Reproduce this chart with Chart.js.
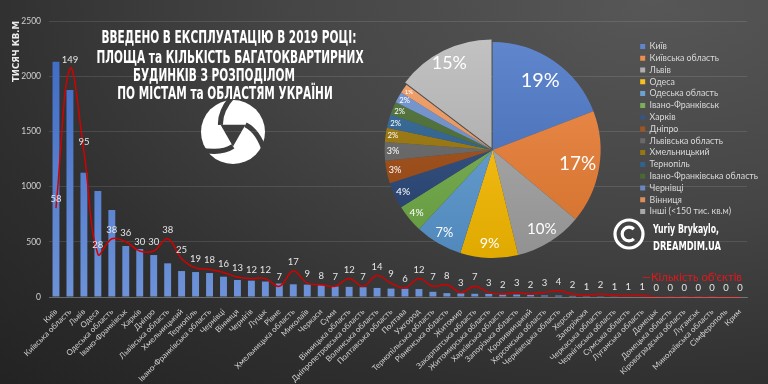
<!DOCTYPE html>
<html lang="uk">
<head>
<meta charset="utf-8">
<script src="https://cdn.jsdelivr.net/npm/chart.js@4.4.1/dist/chart.umd.min.js"></script>
<style>
  html, body { margin: 0; padding: 0; }
  body {
    width: 768px; height: 384px; overflow: hidden; position: relative;
    background: radial-gradient(ellipse 120% 140% at 85% 0%, #575757 0%, #454545 40%, #2e2e2e 75%, #232323 100%);
  }
  #main_wrap { position: absolute; left: 0; top: 0; width: 768px; height: 384px; }
  #pie_wrap { position: absolute; left: 348px; top: 0; width: 420px; height: 300px; }
</style>
</head>
<body>
<div id="main_wrap"><canvas id="main_canvas"></canvas></div>
<div id="pie_wrap"><canvas id="pie_canvas"></canvas></div>
<script>
const city_names = [
  'Київ', 'Київська область', 'Львів', 'Одеса', 'Одеська область',
  'Івано-Франківськ', 'Харків', 'Дніпро', 'Львівська область', 'Хмельницький',
  'Тернопіль', 'Івано-Франківська область', 'Чернівці', 'Вінниця', 'Чернігів',
  'Луцьк', 'Рівне', 'Хмельницька область', 'Миколаїв', 'Черкаси',
  'Суми', 'Вінницька область', 'Дніпропетровська область', 'Волинська область', 'Полтавська область',
  'Полтава', 'Ужгород', 'Тернопільська область', 'Рівненська область', 'Житомир',
  'Закарпатська область', 'Житомирська область', 'Харківська область', 'Запорізька область', 'Кропивницький',
  'Херсонська область', 'Чернівецька область', 'Херсон', 'Запоріжжя', 'Черкаська область',
  'Чернігівська область', 'Сумська область', 'Луганська область', 'Донецьк', 'Донецька область',
  'Кіровоградська область', 'Луганськ', 'Миколаївська область', 'Сімферополь', 'Крим'
];

// тисяч кв.м
const area_values = [
  2130, 1875, 1126, 960, 788,
  462, 435, 380, 305, 235,
  226, 217, 184, 154, 148,
  140, 122, 115, 112, 105,
  95, 92, 88, 82, 76,
  74, 72, 47, 35, 32,
  29, 28, 23, 22, 19,
  14, 13, 10, 8, 7,
  6, 5, 4, 3, 2,
  1, 1, 1, 0, 0
];

const object_counts = [
  58, 149, 95, 28, 38,
  36, 30, 30, 38, 25,
  19, 18, 16, 13, 12,
  12, 7, 17, 9, 8,
  7, 12, 7, 14, 9,
  6, 12, 7, 8, 3,
  7, 3, 2, 3, 2,
  3, 4, 2, 1, 2,
  1, 1, 1, 0, 0,
  0, 0, 0, 0, 0
];

const area_ticks = [0, 500, 1000, 1500, 2000, 2500];
const count_axis_max = 180;

const pie_top_count = 14;
const others_label = 'Інші (<150 тис. кв.м)';
const pie_colors = [
  '#4472c4', '#ed7d31', '#a5a5a5', '#ffc000', '#5b9bd5',
  '#70ad47', '#264478', '#9e480e', '#636363', '#997300',
  '#255e91', '#43682b', '#698ed0', '#f1975a', '#b7b7b7'
];

const title_lines = [
  'ВВЕДЕНО В ЕКСПЛУАТАЦІЮ В 2019 РОЦІ:',
  'ПЛОЩА та КІЛЬКІСТЬ БАГАТОКВАРТИРНИХ',
  'БУДИНКІВ З РОЗПОДІЛОМ',
  'ПО МІСТАМ та ОБЛАСТЯМ УКРАЇНИ'
];
const area_axis_title = 'ТИСЯЧ КВ.М';
const author_lines = ['Yuriy Brykaylo,', 'DREAMDIM.UA'];
const count_legend_text = '—Кількість об\'єктів';

const others_sum = area_values.slice(pie_top_count).reduce((a, b) => a + b, 0);
const pie_labels = city_names.slice(0, pie_top_count).concat([others_label]);
const pie_values = area_values.slice(0, pie_top_count).concat([others_sum]);
const pie_total = pie_values.reduce((a, b) => a + b, 0);

const narrow_font = '"Liberation Sans Narrow", "DejaVu Sans Condensed", sans-serif';

function shade(hex, amt) {
  const n = parseInt(hex.slice(1), 16);
  let r = (n >> 16) & 255, g = (n >> 8) & 255, b = n & 255;
  const f = (c) => Math.max(0, Math.min(255, Math.round(amt > 0 ? c + (255 - c) * amt : c * (1 + amt))));
  return 'rgb(' + f(r) + ',' + f(g) + ',' + f(b) + ')';
}

function bar_fill(context) {
  const area = context.chart.chartArea;
  if (!area) return '#4472c4';
  const g = context.chart.ctx.createLinearGradient(0, area.top, 0, area.bottom);
  g.addColorStop(0, '#3a67c2');
  g.addColorStop(1, '#6d92d8');
  return g;
}

function pie_fill(context) {
  const base = pie_colors[context.dataIndex];
  const area = context.chart.chartArea;
  if (!area) return base;
  const cy = (area.top + area.bottom) / 2;
  const g = context.chart.ctx.createLinearGradient(0, cy - 110, 0, cy + 110);
  g.addColorStop(0, shade(base, 0.15));
  g.addColorStop(1, shade(base, -0.12));
  return g;
}

/**
 * Writes each count value above its point on the red line.
 */
const count_labels_plugin = {
  id: 'count_labels',
  afterDatasetsDraw(chart) {
    const meta = chart.getDatasetMeta(0);
    const ctx = chart.ctx;
    ctx.save();
    ctx.fillStyle = '#e6e6e6';
    ctx.font = '9.5px Lato';
    ctx.textAlign = 'center';
    ctx.textBaseline = 'middle';
    meta.data.forEach((pt, i) => {
      ctx.fillText(String(object_counts[i]), pt.x, pt.y - 9);
    });
    ctx.restore();
  }
};

function fit_text(ctx, text, x, y, width, align) {
  const w = ctx.measureText(text).width;
  const sx = width / w;
  ctx.save();
  ctx.translate(x, y);
  ctx.scale(sx, 1);
  ctx.textAlign = align;
  ctx.fillText(text, 0, 0);
  ctx.restore();
}

function draw_logo(ctx, cx, cy, r) {
  const off = document.createElement('canvas');
  off.width = off.height = Math.ceil(r * 2 + 6);
  const o = off.getContext('2d');
  const c = off.width / 2;
  o.fillStyle = '#ffffff';
  o.beginPath();
  o.arc(c, c, r, 0, Math.PI * 2);
  o.fill();
  o.globalCompositeOperation = 'destination-out';
  o.beginPath();
  for (let k = 0; k < 3; k++) {
    const a = Math.PI / 2 + k * 2 * Math.PI / 3;
    const px = c + Math.cos(a) * r * 0.45, py = c + Math.sin(a) * r * 0.45;
    if (k === 0) o.moveTo(px, py); else o.lineTo(px, py);
  }
  o.closePath();
  o.fill();
  o.lineWidth = r * 0.16;
  o.lineCap = 'butt';
  for (let k = 0; k < 3; k++) {
    const a = Math.PI / 2 + k * 2 * Math.PI / 3;
    o.beginPath();
    o.moveTo(c + Math.cos(a) * r * 0.45, c + Math.sin(a) * r * 0.45);
    o.quadraticCurveTo(c + Math.cos(a + 0.5) * r * 0.8, c + Math.sin(a + 0.5) * r * 0.8,
                       c + Math.cos(a + 1.1) * r * 1.2, c + Math.sin(a + 1.1) * r * 1.2);
    o.stroke();
  }
  ctx.drawImage(off, cx - c, cy - c);
}

/**
 * Title, logo, copyright block and the line series legend.
 */
const decorations_plugin = {
  id: 'decorations',
  afterDraw(chart) {
    const ctx = chart.ctx;
    ctx.save();
    ctx.fillStyle = '#ffffff';
    ctx.textBaseline = 'alphabetic';
    ctx.font = 'bold 17.3px ' + narrow_font;
    const sx = 255 / ctx.measureText(title_lines[0]).width;
    const title_pos = [[229, 43.3], [230, 62.7], [214, 80.7], [225, 99.3]];
    title_lines.forEach((line, i) => {
      ctx.save();
      ctx.translate(title_pos[i][0], title_pos[i][1]);
      ctx.scale(sx, 1);
      ctx.textAlign = 'center';
      ctx.fillText(line, 0, 0);
      ctx.restore();
    });

    draw_logo(ctx, 233, 132, 32);

    // copyright mark
    ctx.strokeStyle = '#ffffff';
    ctx.lineWidth = 3.2;
    ctx.beginPath();
    ctx.arc(629, 234, 14, 0, Math.PI * 2);
    ctx.stroke();
    ctx.beginPath();
    ctx.arc(629, 234, 6.8, Math.PI * 0.25, Math.PI * 1.75);
    ctx.stroke();

    ctx.font = 'bold 13px ' + narrow_font;
    fit_text(ctx, author_lines[0], 653, 233, 66, 'left');
    fit_text(ctx, author_lines[1], 653, 250, 68, 'left');

    ctx.fillStyle = '#e8161b';
    ctx.font = '11px Lato';
    fit_text(ctx, count_legend_text, 742, 280.5, 100, 'right');
    ctx.restore();
  }
};

new Chart(document.getElementById('main_canvas'), {
  type: 'bar',
  data: {
    labels: city_names,
    datasets: [
      {
        type: 'line',
        label: 'Кількість об\'єктів',
        data: object_counts,
        yAxisID: 'y_count',
        borderColor: '#d20000',
        borderWidth: 1.5,
        pointRadius: 0,
        tension: 0.4,
        order: 0
      },
      {
        type: 'bar',
        label: area_axis_title,
        data: area_values,
        yAxisID: 'y',
        backgroundColor: bar_fill,
        barPercentage: 0.55,
        categoryPercentage: 0.9,
        order: 1
      }
    ]
  },
  options: {
    responsive: true,
    maintainAspectRatio: false,
    animation: false,
    layout: { padding: { top: 21, right: 21, left: 0, bottom: 0 } },
    plugins: { legend: { display: false }, tooltip: { enabled: false } },
    scales: {
      x: {
        grid: { display: false },
        border: { color: 'rgba(255,255,255,0.22)' },
        ticks: {
          autoSkip: false, minRotation: 45, maxRotation: 45, padding: 2,
          color: '#d0d0d0', font: { family: 'Lato', size: 8 }
        },
        afterFit: (scale) => { scale.height = 87; }
      },
      y: {
        min: area_ticks[0],
        max: area_ticks[area_ticks.length - 1],
        afterBuildTicks: (scale) => { scale.ticks = area_ticks.map(v => ({ value: v })); },
        ticks: {
          padding: 8, color: '#d0d0d0', font: { family: 'Lato', size: 8.5 },
          callback: (v) => String(v)
        },
        grid: { color: 'rgba(255,255,255,0.11)', drawTicks: false },
        border: { display: false },
        title: {
          display: true, text: area_axis_title, align: 'end', color: '#ececec',
          font: { family: narrow_font, size: 9.5, weight: 'bold' }, padding: { top: 11, bottom: 0 }
        },
        afterFit: (scale) => { scale.width = 49; }
      },
      y_count: { display: false, min: 0, max: count_axis_max }
    }
  },
  plugins: [count_labels_plugin, decorations_plugin]
});

/**
 * Percent labels inside the pie slices, smaller and further out for thin slices.
 */
const pie_labels_plugin = {
  id: 'pie_labels',
  afterDatasetsDraw(chart) {
    const meta = chart.getDatasetMeta(0);
    const ctx = chart.ctx;
    ctx.save();
    ctx.fillStyle = '#ffffff';
    ctx.textAlign = 'center';
    ctx.textBaseline = 'middle';
    meta.data.forEach((arc, i) => {
      const pct = Math.round(pie_values[i] / pie_total * 100);
      const mid = (arc.startAngle + arc.endAngle) / 2;
      const r = arc.outerRadius * (0.95 - 0.009 * pct) + (arc.options.offset || 0);
      ctx.font = (2 + 4.1 * Math.sqrt(pct)).toFixed(1) + 'px Lato';
      ctx.fillText(pct + '%', arc.x + Math.cos(mid) * r, arc.y + Math.sin(mid) * r);
    });
    ctx.restore();
  }
};

new Chart(document.getElementById('pie_canvas'), {
  type: 'pie',
  data: {
    labels: pie_labels,
    datasets: [{
      data: pie_values,
      backgroundColor: pie_fill,
      borderWidth: 0,
      offset: pie_values.map((v, i) => (i === pie_values.length - 1 ? 9 : 0)),
      radius: 108,
      clip: false
    }]
  },
  options: {
    responsive: true,
    maintainAspectRatio: false,
    animation: false,
    layout: { padding: { top: 39, bottom: 39, left: 0, right: 0 } },
    plugins: {
      tooltip: { enabled: false },
      legend: {
        position: 'right',
        align: 'start',
        labels: {
          boxWidth: 5, boxHeight: 5, padding: 3,
          color: '#d9d9d9', font: { family: 'Lato', size: 8.8 }
        }
      }
    }
  },
  plugins: [pie_labels_plugin]
});
</script>
</body>
</html>
